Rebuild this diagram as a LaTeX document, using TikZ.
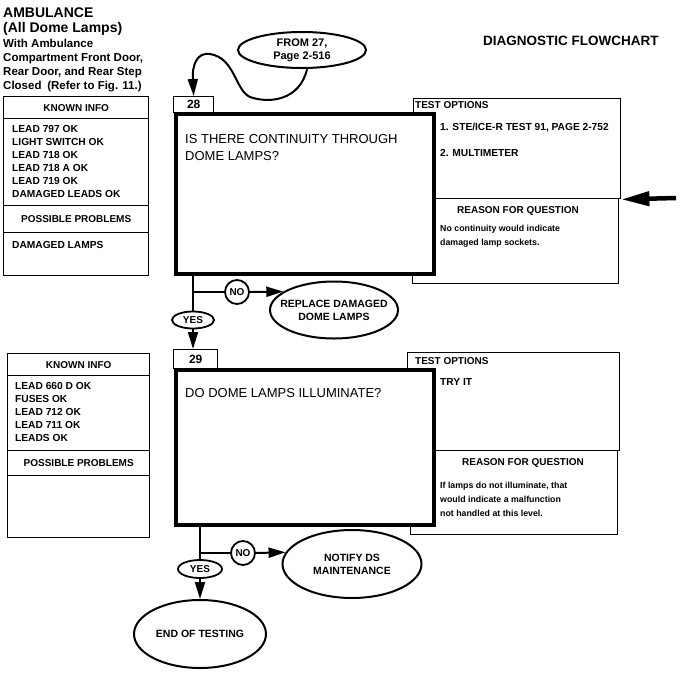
\documentclass[tikz,border=0pt]{standalone}
\usepackage{fontspec}
\setmainfont{Liberation Sans}
\usetikzlibrary{shapes.geometric,arrows.meta,positioning}

\tikzset{
  every node/.style={inner sep=0pt},
  boxline/.style={draw, line width=1.4pt, anchor=north west, fill=white},
  bigbox/.style={draw, line width=4.2pt, anchor=north west, fill=white},
  oval/.style={draw, ellipse, line width=2pt, fill=white, inner sep=-12pt,
    align=center, font=\bfseries\fontsize{10.5}{13}\selectfont},
  yesno/.style={draw, ellipse, line width=1.8pt, fill=white, inner sep=-12pt,
    font=\bfseries\fontsize{10}{12}\selectfont},
  nocircle/.style={draw, circle, line width=1.8pt, fill=white, minimum size=24,
    font=\bfseries\fontsize{10}{12}\selectfont},
  flow/.style={line width=2pt},
  flowarrow/.style={flow, -{Triangle[length=17pt,width=10pt]}},
  feedarrow/.style={line width=4.5pt, -{Triangle[length=28pt,width=14pt]}},
  titletext/.style={font=\bfseries\fontsize{14}{16}\selectfont},
  notetext/.style={font=\bfseries\fontsize{11.5}{14}\selectfont, align=left, anchor=north west},
  headtext/.style={font=\bfseries\fontsize{10}{12}\selectfont},
  listtext/.style={font=\bfseries\fontsize{10.2}{13}\selectfont, align=left, anchor=north west},
  opttext/.style={font=\bfseries\fontsize{10.2}{12}\selectfont, anchor=base west},
  smalltext/.style={font=\bfseries\fontsize{8.8}{14}\selectfont, align=left, anchor=north west},
  asktext/.style={font=\fontsize{13}{17}\selectfont, align=left, anchor=north west},
  numtext/.style={font=\bfseries\fontsize{12}{14}\selectfont},
}

\begin{document}
\begin{tikzpicture}[x=1pt, y=-1pt]
  \useasboundingbox (0,0) rectangle (683,694);

  % Title block
  \node[titletext, anchor=base west] (title) at (3,17) {AMBULANCE};
  \node[titletext, anchor=base west] (subtitle) at (3,32) {(All Dome Lamps)};
  \node[notetext] (condition) at (3,38.7)
    {With Ambulance\\Compartment Front Door,\\Rear Door, and Rear Step\\Closed\enspace(Refer to Fig. 11.)};
  \node[font=\bfseries\fontsize{13.5}{16}\selectfont, anchor=base west] (chart) at (483,45) {DIAGNOSTIC FLOWCHART};

  % Known info, step 28
  \node[boxline, minimum width=145, minimum height=22, headtext] (know1) at (3,96) {KNOWN INFO};
  \node[boxline, minimum width=145, minimum height=87] (knowlist1) at (3,118) {};
  \node[boxline, minimum width=145, minimum height=27, headtext] (prob1) at (3,205) {POSSIBLE PROBLEMS};
  \node[boxline, minimum width=145, minimum height=43] (problist1) at (3,232) {};
  \node[listtext] (knowtext1) at ([shift={(9,6.7)}]knowlist1.north west)
    {LEAD 797 OK\\LIGHT SWITCH OK\\LEAD 718 OK\\LEAD 718 A OK\\LEAD 719 OK\\DAMAGED LEADS OK};
  \node[listtext] (probtext1) at ([shift={(9,8.7)}]problist1.north west) {DAMAGED LAMPS};

  % Test options and reason, step 28
  \node[boxline, minimum width=207, minimum height=100] (test1) at (413,98) {};
  \node[boxline, minimum width=206, minimum height=85] (reason1) at (412,198) {};
  \node[headtext, anchor=base west] (testhead1) at (415,108) {TEST OPTIONS};
  \node[opttext] (opt1a) at (440,130) {1. STE/ICE-R TEST 91, PAGE 2-752};
  \node[opttext] (opt1b) at (440,156) {2. MULTIMETER};
  \node[headtext, anchor=base] (reasonhead1) at (518,213) {REASON FOR QUESTION};
  \node[smalltext] (reasontext1) at (440,224.7) {No continuity would indicate\\damaged lamp sockets.};
  \coordinate (feed28) at (676,198);
  \draw[feedarrow] (feed28) -- (test1.south east);

  % Question 28
  \node[bigbox, minimum width=258, minimum height=160] (main28) at (174,112) {};
  \node[boxline, minimum width=40, minimum height=16, numtext] (num28) at (173,96) {28};
  \node[asktext] (ask28) at (185,134.5) {IS THERE CONTINUITY THROUGH\\DOME LAMPS?};

  % Entry from 27
  \node[oval, minimum width=128, minimum height=36, font=\bfseries\fontsize{11}{13}\selectfont] (from27) at (302,50) {FROM 27,\\Page 2-516};
  \draw[flowarrow] (from27.-75) .. controls (300,100) and (270,104) .. (250,97)
    .. controls (235,90) and (235,58) .. (210,54)
    .. controls (197,52) and (192,65) .. (num28.north);

  % Answers 28
  \node[yesno, minimum width=42, minimum height=17] (yes28) at (193,320) {YES};
  \node[nocircle] (no28) at (237,292) {NO};
  \node[oval, minimum width=128, minimum height=57] (replace28) at (334,310) {REPLACE DAMAGED\\DOME LAMPS};
  \draw[flow] (yes28 |- main28.south) -- (yes28.north);
  \draw[flow] (yes28 |- no28) -- (no28.west);
  \draw[flowarrow] (no28.east) -- (replace28.160);

  % Known info, step 29
  \node[boxline, minimum width=142, minimum height=22, headtext] (know2) at (7,353) {KNOWN INFO};
  \node[boxline, minimum width=142, minimum height=75] (knowlist2) at (7,375) {};
  \node[boxline, minimum width=142, minimum height=25, headtext] (prob2) at (7,450) {POSSIBLE PROBLEMS};
  \node[boxline, minimum width=142, minimum height=62] (problist2) at (7,475) {};
  \node[listtext] (knowtext2) at ([shift={(8,6.7)}]knowlist2.north west)
    {LEAD 660 D OK\\FUSES OK\\LEAD 712 OK\\LEAD 711 OK\\LEADS OK};

  % Test options and reason, step 29
  \node[boxline, minimum width=212, minimum height=98] (test2) at (407,352) {};
  \node[boxline, minimum width=207, minimum height=84] (reason2) at (410,450) {};
  \node[headtext, anchor=base west] (testhead2) at (415,364) {TEST OPTIONS};
  \node[opttext] (opt2a) at (440,385) {TRY IT};
  \node[headtext, anchor=base] (reasonhead2) at (523,465) {REASON FOR QUESTION};
  \node[smalltext] (reasontext2) at (440,481.7)
    {If lamps do not illuminate, that\\would indicate a malfunction\\not handled at this level.};

  % Question 29
  \node[bigbox, minimum width=258, minimum height=155] (main29) at (174,368) {};
  \node[boxline, minimum width=44, minimum height=19, numtext] (num29) at (173,349) {29};
  \node[asktext] (ask29) at (185,388.6) {DO DOME LAMPS ILLUMINATE?};
  \draw[flowarrow] (yes28.south) -- (yes28 |- num29.north);

  % Answers 29
  \node[yesno, minimum width=44, minimum height=18] (yes29) at (200,569) {YES};
  \node[nocircle] (no29) at (243,553) {NO};
  \node[oval, minimum width=139, minimum height=68] (notify29) at (352,564) {NOTIFY DS\\MAINTENANCE};
  \node[oval, minimum width=132, minimum height=68] (endtest) at (200,634) {END OF TESTING};
  \draw[flow] (yes29 |- main29.south) -- (yes29.north);
  \draw[flow] (yes29 |- no29) -- (no29.west);
  \draw[flowarrow] (no29.east) -- (notify29.170);
  \draw[flowarrow] (yes29.south) -- (endtest.north);
\end{tikzpicture}
\end{document}
